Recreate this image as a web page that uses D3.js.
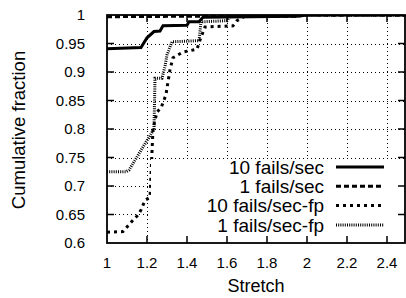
<!DOCTYPE html>
<html>
<head>
<meta charset="utf-8">
<script src="https://cdn.jsdelivr.net/npm/d3@7"></script>
<style>
	body { margin: 0; background: #fff; }
	svg text { font-family: "Liberation Sans", Arial, sans-serif; fill: #000; }
</style>
</head>
<body>
<div id="chart"></div>
<script>
	// Data
	const xTicks = [1, 1.2, 1.4, 1.6, 1.8, 2, 2.2, 2.4];
	const yTicks = [0.6, 0.65, 0.7, 0.75, 0.8, 0.85, 0.9, 0.95, 1];
	const seriesNames = ["10 fails/sec", "1 fails/sec", "10 fails/sec-fp", "1 fails/sec-fp"];

	const fails10X = [1, 1.17, 1.2, 1.235, 1.265, 1.28, 1.4, 1.41, 1.46, 1.48, 1.95, 2.0, 2.5];
	const fails10Y = [0.941, 0.943, 0.96, 0.971, 0.972, 0.981, 0.982, 0.988, 0.988, 0.996, 0.998, 1, 1];

	const fails1X = [1, 1.5, 1.95, 2.0, 2.5];
	const fails1Y = [0.997, 0.998, 0.998, 1, 1];

	const fails10fpX = [1, 1.08, 1.1, 1.13, 1.155, 1.17, 1.19, 1.215, 1.22, 1.23, 1.25, 1.27, 1.295, 1.3, 1.315, 1.33, 1.38, 1.45, 1.465, 1.49, 1.63, 1.65, 1.7, 2.5];
	const fails10fpY = [0.619, 0.62, 0.628, 0.64, 0.649, 0.658, 0.675, 0.68, 0.72, 0.8, 0.83, 0.837, 0.86, 0.872, 0.904, 0.925, 0.935, 0.94, 0.956, 0.979, 0.981, 0.99, 1, 1];

	const fails1fpX = [1, 1.095, 1.11, 1.2, 1.21, 1.235, 1.24, 1.275, 1.29, 1.3, 1.325, 1.46, 1.47, 1.6, 1.62, 2.5];
	const fails1fpY = [0.725, 0.725, 0.728, 0.78, 0.785, 0.8, 0.889, 0.889, 0.91, 0.93, 0.953, 0.955, 0.988, 0.99, 1, 1];

	(function (d3) {
		"use strict";
		const width = 406, height = 298;
		const plot = { left: 107, right: 407, top: 15, bottom: 243 };

		const svg = d3.select("#chart").append("svg")
			.attr("width", width)
			.attr("height", height);

		const x = d3.scaleLinear().domain([1, 2.5]).range([plot.left, plot.right]);
		const y = d3.scaleLinear().domain([0.6, 1]).range([plot.bottom, plot.top]);

		svg.append("clipPath").attr("id", "clip")
			.append("rect")
			.attr("x", plot.left).attr("y", plot.top)
			.attr("width", plot.right - plot.left).attr("height", plot.bottom - plot.top);

		// dotted grid
		const grid = svg.append("g").attr("stroke", "#000").attr("stroke-width", 1)
			.attr("stroke-dasharray", "1,3");
		grid.selectAll(".gx").data(xTicks.slice(1))
			.enter().append("line")
			.attr("x1", d => x(d) + 0.5).attr("x2", d => x(d) + 0.5)
			.attr("y1", plot.top).attr("y2", plot.bottom);
		grid.selectAll(".gy").data(yTicks.slice(1, -1))
			.enter().append("line")
			.attr("y1", d => Math.round(y(d)) + 0.5).attr("y2", d => Math.round(y(d)) + 0.5)
			.attr("x1", plot.left).attr("x2", plot.right);

		// series
		const series = [
			{ xs: fails10X, ys: fails10Y, dash: null, w: 3 },
			{ xs: fails1X, ys: fails1Y, dash: "5,3", w: 3 },
			{ xs: fails10fpX, ys: fails10fpY, dash: "3,4", w: 3 },
			{ xs: fails1fpX, ys: fails1fpY, dash: "1,1.2", w: 3 }
		];
		const line = d3.line().x(d => x(d[0])).y(d => y(d[1]));
		const dataG = svg.append("g").attr("clip-path", "url(#clip)");
		series.forEach(s => {
			dataG.append("path")
				.datum(d3.zip(s.xs, s.ys))
				.attr("d", line)
				.attr("fill", "none")
				.attr("stroke", "#000")
				.attr("stroke-width", s.w)
				.attr("stroke-dasharray", s.dash);
		});

		// legend (opaque key)
		const legendTop = 159;
		svg.append("rect")
			.attr("x", 151).attr("y", legendTop)
			.attr("width", plot.right - 151).attr("height", plot.bottom - legendTop)
			.attr("fill", "#fff");
		const legend = svg.append("g");
		seriesNames.forEach((name, i) => {
			const ly = 167 + i * 19.3;
			legend.append("text")
				.attr("x", 324).attr("y", ly)
				.attr("dy", "0.36em")
				.attr("text-anchor", "end")
				.attr("font-size", 19)
				.text(name);
			legend.append("line")
				.attr("x1", 336).attr("x2", 384)
				.attr("y1", ly).attr("y2", ly)
				.attr("stroke", "#000")
				.attr("stroke-width", series[i].w)
				.attr("stroke-dasharray", series[i].dash);
		});

		// frame and ticks (mirrored, inward)
		const axisG = svg.append("g").attr("stroke", "#000");
		axisG.append("rect")
			.attr("x", plot.left).attr("y", plot.top)
			.attr("width", 405 - plot.left).attr("height", plot.bottom - plot.top)
			.attr("fill", "none").attr("stroke-width", 1.8);
		const tickLen = 7;
		xTicks.slice(1).forEach(t => {
			axisG.append("line").attr("x1", x(t)).attr("x2", x(t))
				.attr("y1", plot.bottom).attr("y2", plot.bottom - tickLen).attr("stroke-width", 1.5);
			axisG.append("line").attr("x1", x(t)).attr("x2", x(t))
				.attr("y1", plot.top).attr("y2", plot.top + tickLen).attr("stroke-width", 1.5);
		});
		yTicks.slice(1, -1).forEach(t => {
			axisG.append("line").attr("y1", y(t)).attr("y2", y(t))
				.attr("x1", plot.left).attr("x2", plot.left + tickLen).attr("stroke-width", 1.5);
			axisG.append("line").attr("y1", y(t)).attr("y2", y(t))
				.attr("x1", 405).attr("x2", 405 - tickLen).attr("stroke-width", 1.5);
		});

		// tick labels
		svg.append("g").selectAll("text").data(xTicks)
			.enter().append("text")
			.attr("x", d => x(d)).attr("y", 263)
			.attr("dy", "0.36em")
			.attr("text-anchor", "middle")
			.attr("font-size", 15)
			.text(d => d3.format("")(d));
		svg.append("g").selectAll("text").data(yTicks)
			.enter().append("text")
			.attr("x", 85).attr("y", d => y(d))
			.attr("dy", "0.36em")
			.attr("text-anchor", "end")
			.attr("font-size", 15)
			.text(d => d3.format("")(d));

		// axis titles
		svg.append("text")
			.attr("x", 256).attr("y", 286)
			.attr("dy", "0.36em")
			.attr("text-anchor", "middle")
			.attr("font-size", 18)
			.text("Stretch");
		svg.append("text")
			.attr("transform", "translate(18,130) rotate(-90)")
			.attr("dy", "0.36em")
			.attr("text-anchor", "middle")
			.attr("font-size", 18.5)
			.text("Cumulative fraction");
	})(d3);
</script>
</body>
</html>
